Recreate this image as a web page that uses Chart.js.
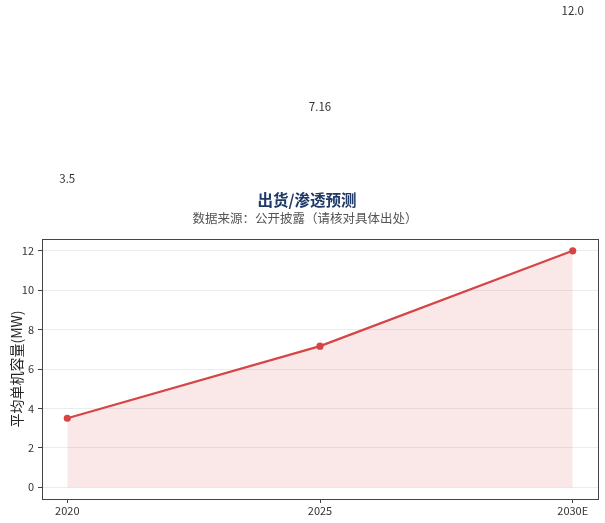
<!DOCTYPE html>
<html>
<head>
<meta charset="utf-8">
<script src="https://cdn.jsdelivr.net/npm/chart.js@4.4.1/dist/chart.umd.min.js"></script>
<style>
  html, body { margin: 0; padding: 0; background: #fff; }
  #wrap { width: 605px; height: 523px; position: relative; }
</style>
</head>
<body>
<div id="wrap"><canvas id="chart"></canvas></div>
<script>
// dati del grafico
const categories = ['2020', '2025', '2030E'];
const capacityValues = [3.5, 7.16, 12.0];
const valueLabels = ['3.5', '7.16', '12.0'];
const yTickValues = [0, 2, 4, 6, 8, 10, 12];

const FONT = '"Noto Sans CJK SC", "Noto Sans", sans-serif';
const LINE_COLOR = 'rgb(214, 69, 69)';

// titolo + sottotitolo, cornice dell'area, etichette valori
const decorPlugin = {
    id: 'decor',
    afterDraw(chart) {
        const ctx = chart.ctx;
        const area = chart.chartArea;
        ctx.save();
        ctx.strokeStyle = '#444';
        ctx.lineWidth = 1;
        ctx.strokeRect(area.left + 0.5, area.top + 0.5, area.right - area.left, area.bottom - area.top);

        ctx.textAlign = 'center';
        ctx.textBaseline = 'middle';
        ctx.fillStyle = '#1f3a68';
        ctx.font = 'bold 15.5px ' + FONT;
        ctx.fillText('出货/渗透预测', 307, 200);
        ctx.fillStyle = '#555';
        ctx.font = '12.5px ' + FONT;
        ctx.fillText('数据来源：公开披露（请核对具体出处）', 305, 218);

        // etichette valori (spostate in alto come nell'originale)
        const meta = chart.getDatasetMeta(0);
        ctx.fillStyle = '#333';
        ctx.font = '11.5px ' + FONT;
        meta.data.forEach((pt, i) => {
            ctx.fillText(valueLabels[i], pt.x, pt.y - 240);
        });
        ctx.restore();
    }
};

document.addEventListener('DOMContentLoaded', function() {
    const ctx = document.getElementById('chart').getContext('2d');
    new Chart(ctx, {
        type: 'line',
        data: {
            datasets: [{
                label: '平均单机容量(MW)',
                data: capacityValues.map((v, i) => ({ x: i, y: v })),
                borderColor: LINE_COLOR,
                backgroundColor: 'rgba(214, 69, 69, 0.12)',
                borderWidth: 2.2,
                pointRadius: 2.5,
                pointBackgroundColor: LINE_COLOR,
                pointBorderColor: LINE_COLOR,
                fill: 'origin',
                tension: 0
            }]
        },
        options: {
            responsive: true,
            maintainAspectRatio: false,
            animation: false,
            layout: { padding: { left: 8, right: 7, top: 239, bottom: 0 } },
            plugins: {
                legend: { display: false },
                title: { display: false },
                tooltip: { enabled: false }
            },
            scales: {
                x: {
                    type: 'linear',
                    min: -0.1,
                    max: 2.1,
                    afterBuildTicks: axis => { axis.ticks = categories.map((c, i) => ({ value: i })); },
                    afterFit: axis => { axis.height = 24; },
                    ticks: {
                        callback: value => categories[value],
                        color: '#333',
                        font: { family: FONT, size: 11 },
                        padding: 1,
                        maxRotation: 0
                    },
                    grid: { drawOnChartArea: false, tickLength: 4, tickColor: '#444' },
                    border: { display: false }
                },
                y: {
                    min: -0.6,
                    max: 12.6,
                    afterBuildTicks: axis => { axis.ticks = yTickValues.map(v => ({ value: v })); },
                    afterFit: axis => { axis.width = 34; },
                    ticks: {
                        color: '#333',
                        font: { family: FONT, size: 11 },
                        padding: 4
                    },
                    grid: { color: '#ececec', tickLength: 4, tickColor: '#444' },
                    border: { display: false },
                    title: {
                        display: true,
                        text: '平均单机容量(MW)',
                        color: '#222',
                        font: { family: FONT, size: 14 },
                        padding: 0
                    }
                }
            }
        },
        plugins: [decorPlugin]
    });
});
</script>
</body>
</html>
